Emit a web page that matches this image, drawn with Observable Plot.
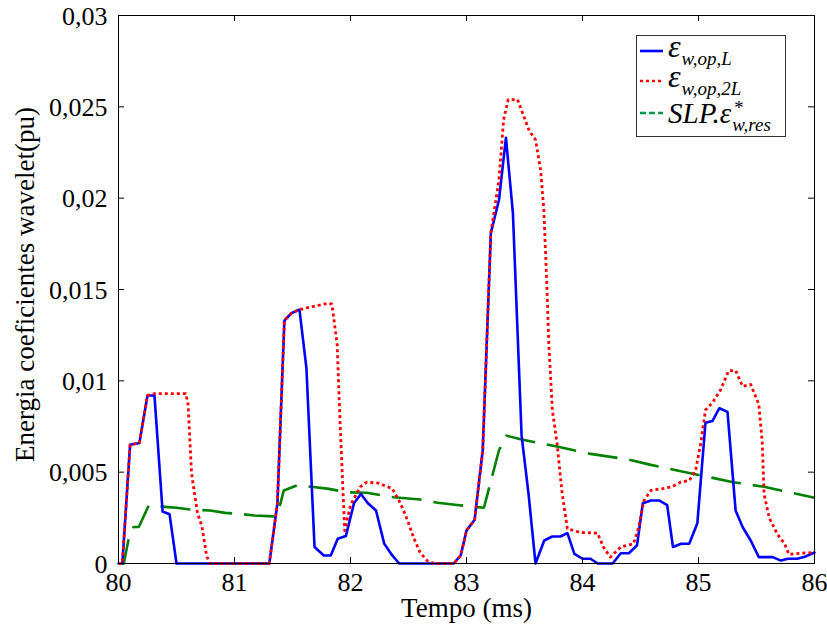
<!DOCTYPE html>
<html>
<head>
<meta charset="utf-8">
<script src="https://cdn.jsdelivr.net/npm/d3@7"></script>
<script src="https://cdn.jsdelivr.net/npm/@observablehq/plot@0.6"></script>
<style>
  html, body { margin: 0; padding: 0; background: white; }
  #chart { position: relative; width: 827px; height: 633px; }
  #chart svg text { font-family: "Liberation Serif", "Times New Roman", Times, serif !important; }
</style>
</head>
<body>
<div id="chart"></div>
<script>
// ---- Data ----
const blueT = [80.0, 80.033, 80.1, 80.18, 80.25, 80.31, 80.38, 80.44, 80.5, 81.3, 81.37, 81.43, 81.49, 81.56, 81.62, 81.69, 81.77, 81.83, 81.89, 81.96, 82.03, 82.09, 82.15, 82.22, 82.29, 82.36, 82.42, 82.89, 82.95, 83.0, 83.07, 83.14, 83.21, 83.28, 83.34, 83.40, 83.475, 83.535, 83.595, 83.67, 83.74, 83.81, 83.87, 83.93, 84.0, 84.07, 84.13, 84.26, 84.33, 84.40, 84.47, 84.52, 84.59, 84.66, 84.73, 84.78, 84.85, 84.92, 84.99, 85.06, 85.12, 85.18, 85.25, 85.32, 85.38, 85.45, 85.52, 85.64, 85.71, 85.77, 85.85, 85.91, 86.0];
const blueV = [0, 0, 0.0065, 0.0066, 0.0092, 0.0092, 0.00285, 0.0027, 0, 0, 0.0033, 0.0133, 0.0137, 0.0139, 0.0107, 0.0009, 0.00044, 0.00044, 0.00135, 0.0015, 0.0033, 0.0038, 0.0033, 0.0029, 0.0011, 0.00044, 0, 0, 0.00044, 0.0018, 0.0024, 0.0062, 0.0181, 0.0199, 0.0233, 0.0192, 0.0070, 0.0038, 0, 0.00126, 0.00148, 0.00148, 0.00166, 0.00053, 0.00026, 0.00026, 0, 0, 0.00056, 0.00056, 0.001, 0.0033, 0.00345, 0.00345, 0.0032, 0.0009, 0.00108, 0.00108, 0.0022, 0.0077, 0.0078, 0.0085, 0.0083, 0.0029, 0.002, 0.00126, 0.00035, 0.00035, 0.00016, 0.00026, 0.00026, 0.00035, 0.0006];

const redT = [80.0, 80.033, 80.1, 80.18, 80.25, 80.31, 80.45, 80.58, 80.6, 80.63, 80.68, 80.72, 80.76, 80.79, 81.3, 81.37, 81.43, 81.49, 81.56, 81.70, 81.81, 81.84, 81.885, 81.91, 81.95, 82.0, 82.085, 82.14, 82.24, 82.36, 82.43, 82.49, 82.545, 82.6, 82.66, 82.72, 82.89, 82.95, 83.0, 83.07, 83.14, 83.21, 83.28, 83.32, 83.36, 83.44, 83.54, 83.595, 83.64, 83.667, 83.69, 83.71, 83.74, 83.78, 83.825, 83.87, 83.98, 84.13, 84.18, 84.24, 84.33, 84.44, 84.485, 84.53, 84.59, 84.69, 84.77, 84.845, 84.92, 84.975, 85.02, 85.06, 85.12, 85.19, 85.26, 85.32, 85.38, 85.45, 85.52, 85.55, 85.565, 85.61, 85.68, 85.74, 85.78, 85.88, 86.0];
const redV = [0, 0, 0.0065, 0.0066, 0.0092, 0.0093, 0.0093, 0.0093, 0.0087, 0.0049, 0.0028, 0.002, 0.0004, 0, 0, 0.0033, 0.0133, 0.0137, 0.0139, 0.0141, 0.01425, 0.0142, 0.012, 0.0077, 0.0018, 0.0032, 0.0042, 0.00445, 0.0044, 0.0041, 0.0033, 0.0024, 0.0014, 0.0006, 0.00016, 0, 0, 0.00044, 0.0018, 0.0024, 0.0062, 0.0181, 0.021, 0.0243, 0.0254, 0.0254, 0.0237, 0.0232, 0.0215, 0.0193, 0.0157, 0.012, 0.0084, 0.0066, 0.0038, 0.0019, 0.0017, 0.00166, 0.0009, 0.00035, 0.0009, 0.00108, 0.002, 0.00345, 0.004, 0.0041, 0.0042, 0.00445, 0.00454, 0.0051, 0.0066, 0.0084, 0.0088, 0.0095, 0.01056, 0.01056, 0.0097, 0.0098, 0.0087, 0.0066, 0.0038, 0.0025, 0.0016, 0.0011, 0.0005, 0.00056, 0.0006];

const greenT = [80.0, 80.046, 80.09, 80.13, 80.175, 80.26, 80.4, 80.5, 80.62, 80.79, 80.92, 81.04, 81.17, 81.34, 81.38, 81.425, 81.55, 81.66, 81.8, 81.97, 82.14, 82.37, 82.6, 82.75, 82.92, 83.15, 83.28, 83.345, 83.465, 83.78, 84.07, 84.39, 84.59, 84.96, 85.3, 85.565, 86.0];
const greenV = [0, 0, 0.00144, 0.002, 0.002, 0.00317, 0.0031, 0.00305, 0.00296, 0.0029, 0.00277, 0.00272, 0.00263, 0.00258, 0.0029, 0.004, 0.0043, 0.0042, 0.0041, 0.0039, 0.00387, 0.00363, 0.0035, 0.00333, 0.0032, 0.00305, 0.0062, 0.007, 0.0068, 0.0064, 0.006, 0.0057, 0.0054, 0.0049, 0.00445, 0.0042, 0.0036];

const xTicks = [80, 81, 82, 83, 84, 85, 86];
const xTickLabels = ["80", "81", "82", "83", "84", "85", "86"];
const yTicks = [0, 0.005, 0.01, 0.015, 0.02, 0.025, 0.03];
const yTickLabels = ["0", "0,005", "0,01", "0,015", "0,02", "0,025", "0,03"];
const xLabel = "Tempo (ms)";
const yLabel = "Energia coeficientes wavelet(pu)";

// ---- Build tables ----
const blue = blueT.map((t, i) => ({t, v: blueV[i]}));
const red = redT.map((t, i) => ({t, v: redV[i]}));
const green = greenT.map((t, i) => ({t, v: greenV[i]}));

const W = 827, H = 633, mL = 118, mR = 13, mT = 15, mB = 70;
const plotH = H - mT - mB, plotW = W - mL - mR;
const tick = 6;
const serif = "'Liberation Serif','Times New Roman',Times,serif";

const chart = Plot.plot({
  width: W, height: H,
  marginLeft: mL, marginRight: mR, marginTop: mT, marginBottom: mB,
  style: {fontFamily: serif, fontSize: "26px", background: "white", color: "black"},
  x: {domain: [80, 86], axis: null},
  y: {domain: [0, 0.03], axis: null},
  marks: [
    Plot.line(green, {x: "t", y: "v", stroke: "#008000", strokeWidth: 2.6, strokeDasharray: "30,12", strokeLinecap: "butt"}),
    Plot.line(blue, {x: "t", y: "v", stroke: "#0000ff", strokeWidth: 2.6}),
    Plot.line(red, {x: "t", y: "v", stroke: "#ff0000", strokeWidth: 2.8, strokeDasharray: "3,3", strokeLinecap: "butt"}),
    // inward ticks on all four sides
    Plot.ruleX(xTicks, {x: d => d, insetTop: plotH - tick, stroke: "black"}),
    Plot.ruleX(xTicks, {x: d => d, insetBottom: plotH - tick, stroke: "black"}),
    Plot.ruleY(yTicks, {y: d => d, insetRight: plotW - tick, stroke: "black"}),
    Plot.ruleY(yTicks, {y: d => d, insetLeft: plotW - tick, stroke: "black"}),
    Plot.frame({stroke: "black", strokeWidth: 1}),
    // tick labels
    Plot.text(xTicks, {x: d => d, text: (d, i) => xTickLabels[i], frameAnchor: "bottom", lineAnchor: "middle", textAnchor: "middle", dy: 19, fontSize: 26, fill: "black"}),
    Plot.text(yTicks, {y: d => d, text: (d, i) => yTickLabels[i], frameAnchor: "left", lineAnchor: "middle", textAnchor: "end", dx: -11, dy: 1, fontSize: 26, fill: "black"}),
    // axis titles
    Plot.text([xLabel], {text: d => d, frameAnchor: "bottom", lineAnchor: "middle", textAnchor: "middle", dy: 45, fontSize: 27, fill: "black"}),
    Plot.text([yLabel], {text: d => d, frameAnchor: "left", lineAnchor: "middle", textAnchor: "middle", rotate: -90, dx: -93, dy: -5, fontSize: 27, fill: "black"})
  ]
});

document.getElementById("chart").appendChild(chart);

// ---- Legend (inside the plot, top right) ----
const svg = d3.select(chart);
const lg = svg.append("g").attr("font-style", "italic").attr("fill", "black").attr("text-anchor", "start");
lg.append("rect").attr("x", 636.5).attr("y", 35.5).attr("width", 149).attr("height", 101)
  .attr("fill", "white").attr("stroke", "#333").attr("stroke-width", 1);

const legendItems = [
  {main: "ε", mainSize: 32, sub: "w,op,L", sup: null, stroke: "#0000ff", dash: null, y: 51, base: 57, subBase: 65},
  {main: "ε", mainSize: 32, sub: "w,op,2L", sup: null, stroke: "#ff0000", dash: "3,3", y: 81, base: 87, subBase: 95},
  {main: "SLP.ε", mainSize: 29, sub: "w,res", sup: "*", stroke: "#00994d", dash: "6,3", y: 113, base: 123, subBase: 131}
];
legendItems.forEach(it => {
  lg.append("line").attr("x1", 640).attr("x2", 663).attr("y1", it.y).attr("y2", it.y)
    .attr("stroke", it.stroke).attr("stroke-width", 2.6).attr("stroke-dasharray", it.dash);
  const t = lg.append("text").attr("x", 668).attr("y", it.base).attr("font-size", it.mainSize).text(it.main);
  const w = t.node().getComputedTextLength();
  lg.append("text").attr("x", 668 + w + 1).attr("y", it.subBase).attr("font-size", 19).text(it.sub);
  if (it.sup) lg.append("text").attr("x", 668 + w + 2).attr("y", it.base - 9).attr("font-size", 19).text(it.sup);
});
</script>
</body>
</html>
